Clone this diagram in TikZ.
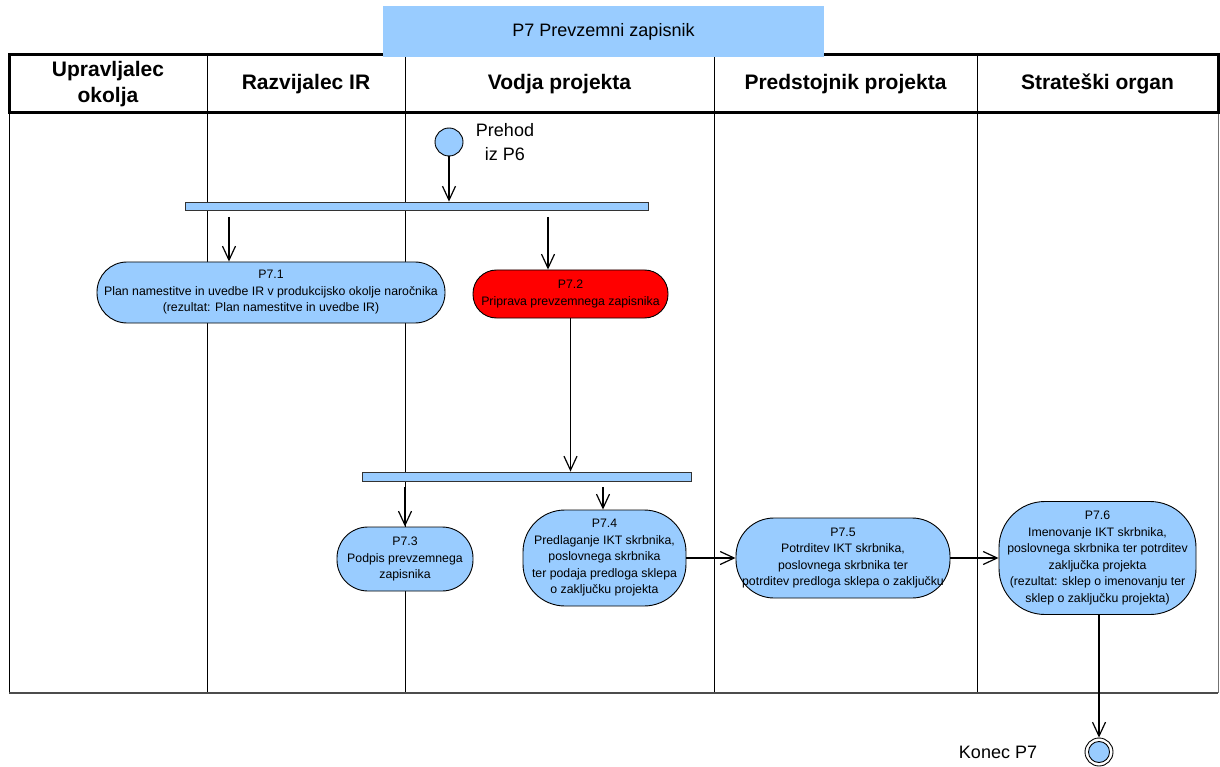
\documentclass[tikz,border=0pt]{standalone}
\usepackage{fontspec}
\setmainfont{Liberation Sans}
\usetikzlibrary{arrows.meta}
\definecolor{lblue}{HTML}{99CCFF}
\definecolor{actred}{HTML}{FF0000}
\begin{document}
\begin{tikzpicture}[x=1pt,y=-1pt,
  act/.style={draw=black, line width=0.9pt, fill=lblue, align=center,
    font=\fontsize{12.3}{16.5}\selectfont, inner sep=0pt, rectangle},
  flow/.style={line width=1.2pt, -{Straight Barb[length=14pt,width=13pt,line width=1.2pt]}},
  bar/.style={draw=black!80, line width=0.8pt, fill=lblue, inner sep=0pt, rectangle},
  lane/.style={line width=1pt},
  hdr/.style={font=\fontsize{21}{26}\selectfont\bfseries, align=center},
  lbl/.style={font=\fontsize{18}{24}\selectfont, align=center}]
\useasboundingbox (0,0) rectangle (1220,767);

% swimlane grid
\foreach \lx in {9,207,405,714,977}
  \draw[lane] (\lx,55) -- (\lx,693);
\draw[lane, black!55] (1218,113) -- (1218,693);
\draw[line width=1.6pt, black!70] (9,693) -- (1218,693);
\draw[line width=3pt] (9,55) rectangle (1218,113);

% lane headers
\node[hdr] (h1) at (108,84) {Upravljalec\\okolja};
\node[hdr] (h2) at (306,84) {Razvijalec IR};
\node[hdr] (h3) at (559.5,84) {Vodja projekta};
\node[hdr] (h4) at (845.5,84) {Predstojnik projekta};
\node[hdr] (h5) at (1097.5,84) {Strateški organ};

% title
\node[fill=lblue, minimum width=441pt, minimum height=51pt, inner sep=0pt,
  font=\fontsize{18}{22}\selectfont] (title) at (603.5,31.5) {P7 Prevzemni zapisnik};

% start
\node[circle, draw=black, line width=0.9pt, fill=lblue, minimum size=28pt, inner sep=0pt] (startc) at (449,142) {};
\node[lbl] (prehod) at (505,142) {Prehod\\ iz P6};

% fork bars
\node[bar, minimum width=463pt, minimum height=8pt] (bar1) at (416.5,206) {};
\node[bar, minimum width=329pt, minimum height=9pt] (bar2) at (526.5,476.5) {};

% activities
\node[act, minimum width=348pt, minimum height=61pt, rounded corners=30pt] (p71) at (271,292.5)
  {P7.1\\Plan namestitve in uvedbe IR v produkcijsko okolje naročnika\\(rezultat: Plan namestitve in uvedbe IR)};
\node[act, fill=actred, minimum width=195pt, minimum height=48pt, rounded corners=23.5pt] (p72) at (570.5,294)
  {P7.2\\Priprava prevzemnega zapisnika};
\node[act, minimum width=136pt, minimum height=64pt, rounded corners=31pt] (p73) at (405,559)
  {P7.3\\Podpis prevzemnega\\zapisnika};
\node[act, minimum width=163pt, minimum height=96pt, rounded corners=42pt] (p74) at (604.5,558)
  {P7.4\\Predlaganje IKT skrbnika,\\poslovnega skrbnika\\ter podaja predloga sklepa\\o zaključku projekta};
\node[act, minimum width=214pt, minimum height=80pt, rounded corners=38pt] (p75) at (843,558)
  {P7.5\\Potrditev IKT skrbnika,\\poslovnega skrbnika ter\\potrditev predloga sklepa o zaključku};
\node[act, minimum width=197pt, minimum height=113pt, rounded corners=46pt] (p76) at (1097.5,558)
  {P7.6\\Imenovanje IKT skrbnika,\\poslovnega skrbnika ter potrditev\\zaključka projekta\\(rezultat: sklep o imenovanju ter\\sklep o zaključku projekta)};

% end
\node[circle, draw=black, line width=0.9pt, fill=white, minimum size=28pt, inner sep=0pt] (endc) at (1099,752) {};
\node[circle, draw=black, line width=0.9pt, fill=lblue, minimum size=21pt, inner sep=0pt] (endin) at (endc) {};
\node[lbl] (konec) at (998,752) {Konec P7};

% free starting points of the outgoing fork branches
\coordinate (f1) at (229,217);
\coordinate (f2) at (548,217);
\coordinate (f3) at (405,487);
\coordinate (f4) at (603,487);

% flows
\draw[flow] (startc.south) -- (bar1.north -| startc);
\draw[flow] (f1) -- (p71.north -| f1);
\draw[flow] (f2) -- (p72.north -| f2);
\draw[flow] (p72.south) -- (bar2.north -| p72.south);
\draw[flow] (f3) -- (p73.north -| f3);
\draw[flow] (f4) -- (p74.north -| f4);
\draw[flow] (p74.east) -- (p75.west);
\draw[flow] (p75.east) -- (p76.west);
\draw[flow] (p76.south -| endc) -- (endc.north);
\end{tikzpicture}
\end{document}
